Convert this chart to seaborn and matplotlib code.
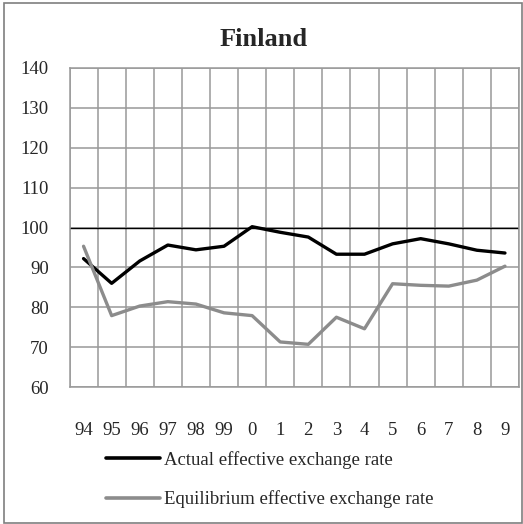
import pandas as pd
import matplotlib.pyplot as plt
import seaborn as sns
from matplotlib.patches import Rectangle

# Chart data
years = ['94', '95', '96', '97', '98', '99', '0', '1', '2', '3', '4', '5', '6', '7', '8', '9']
actual = [92.2, 86.0, 91.6, 95.6, 94.4, 95.3, 100.2, 98.8, 97.6, 93.3, 93.3, 95.9, 97.2, 95.9, 94.3, 93.6]
equilibrium = [95.3, 77.9, 80.3, 81.4, 80.8, 78.6, 77.9, 71.3, 70.7, 77.5, 74.6, 85.9, 85.5, 85.3, 86.8, 90.3]
y_ticks = [60, 70, 80, 90, 100, 110, 120, 130, 140]

lbl_actual = 'Actual effective exchange rate'
lbl_equil = 'Equilibrium effective exchange rate'

df = pd.DataFrame({'pos': list(range(len(years))) * 2,
                   'value': actual + equilibrium,
                   'series': [lbl_actual] * len(years) + [lbl_equil] * len(years)})

sns.set_style('white')
plt.rcParams['font.family'] = ['Liberation Serif', 'DejaVu Serif']

fig = plt.figure(figsize=(5.23, 5.24), dpi=100)
ax = fig.add_axes([69.5 / 523, 1 - 387 / 524, (519 - 69.5) / 523, (387 - 68) / 524])

grid_col = '#999999'
sns.lineplot(data=df, x='pos', y='value', hue='series',
             palette={lbl_actual: '#000000', lbl_equil: '#8c8c8c'},
             linewidth=2.4, ax=ax, legend=False, zorder=3)

ax.axhline(100, color='black', linewidth=1.0, zorder=2)

ax.set_xlim(-0.5, len(years) - 0.5)
ax.set_ylim(60, 140)
ax.set_yticks(y_ticks)
ax.set_yticklabels([str(v) for v in y_ticks], fontsize=13.5)
ax.set_xticks(range(len(years)))
ax.set_xticklabels(years, fontsize=13.5)
ax.set_xticks([i - 0.5 for i in range(len(years) + 1)], minor=True)
ax.tick_params(axis='x', which='both', length=0, pad=25)
ax.tick_params(axis='y', length=0, pad=15)
ax.grid(False)
ax.yaxis.grid(True, which='major', color=grid_col, linewidth=1.1, zorder=0)
ax.xaxis.grid(True, which='minor', color=grid_col, linewidth=1.1, zorder=0)
ax.set_xlabel('')
ax.set_ylabel('')
for sp in ax.spines.values():
    sp.set_color(grid_col)
    sp.set_linewidth(1.1)

fig.text(264 / 523, 1 - 40 / 524, 'Finland', ha='center', va='center',
         fontsize=19, fontweight='bold')

handles = [plt.Line2D([], [], color='#000000', linewidth=2.6),
           plt.Line2D([], [], color='#8c8c8c', linewidth=2.6)]
fig.legend(handles, [lbl_actual, lbl_equil], loc='upper left',
           bbox_to_anchor=(106 / 523, 1 - 451 / 524), frameon=False,
           fontsize=13.5, handlelength=2.9, handletextpad=0.2,
           labelspacing=1.15, borderpad=0, borderaxespad=0)

fig.patches.append(Rectangle((4 / 523, 1 / 524), 518 / 523, 520 / 524,
                             transform=fig.transFigure, fill=False,
                             edgecolor='#7f7f7f', linewidth=1.2))

fig.savefig('out.png', dpi=100)
